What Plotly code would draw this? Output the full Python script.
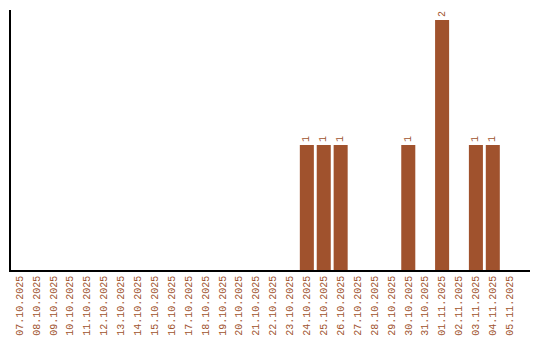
import plotly.graph_objects as go

dates = ["07.10.2025","08.10.2025","09.10.2025","10.10.2025","11.10.2025","12.10.2025",
         "13.10.2025","14.10.2025","15.10.2025","16.10.2025","17.10.2025","18.10.2025",
         "19.10.2025","20.10.2025","21.10.2025","22.10.2025","23.10.2025","24.10.2025",
         "25.10.2025","26.10.2025","27.10.2025","28.10.2025","29.10.2025","30.10.2025",
         "31.10.2025","01.11.2025","02.11.2025","03.11.2025","04.11.2025","05.11.2025"]
counts = [0,0,0,0,0,0,0,0,0,0,0,0,0,0,0,0,0,1,1,1,0,0,0,1,0,2,0,1,1,0]

color = "#A0522D"
texts = [str(v) if v else "" for v in counts]

fig = go.Figure(go.Bar(
    x=list(range(len(dates))), y=counts, marker_color=color, marker_line_width=0,
    text=texts, textposition="outside", textangle=-90, cliponaxis=False,
    textfont=dict(family="Liberation Mono", size=10, color=color),
))
fig.update_layout(
    width=540, height=340, margin=dict(l=11, r=10, t=10, b=70, autoexpand=False),
    plot_bgcolor="white", paper_bgcolor="white", bargap=0.17, showlegend=False,
)
fig.update_xaxes(
    tickmode="array", tickvals=list(range(len(dates))), ticktext=dates,
    tickangle=-90, range=[-0.5, 30.2], showgrid=False, zeroline=False, automargin=False,
    showline=True, linecolor="black", linewidth=1.5, ticks="", ticklen=0,
    tickfont=dict(family="Liberation Mono", size=10, color=color),
)
fig.update_yaxes(
    range=[0, 2.08], showgrid=False, zeroline=False, showticklabels=False, automargin=False,
    showline=True, linecolor="black", linewidth=1.5, ticks="",
)
fig.write_html("out.html")
